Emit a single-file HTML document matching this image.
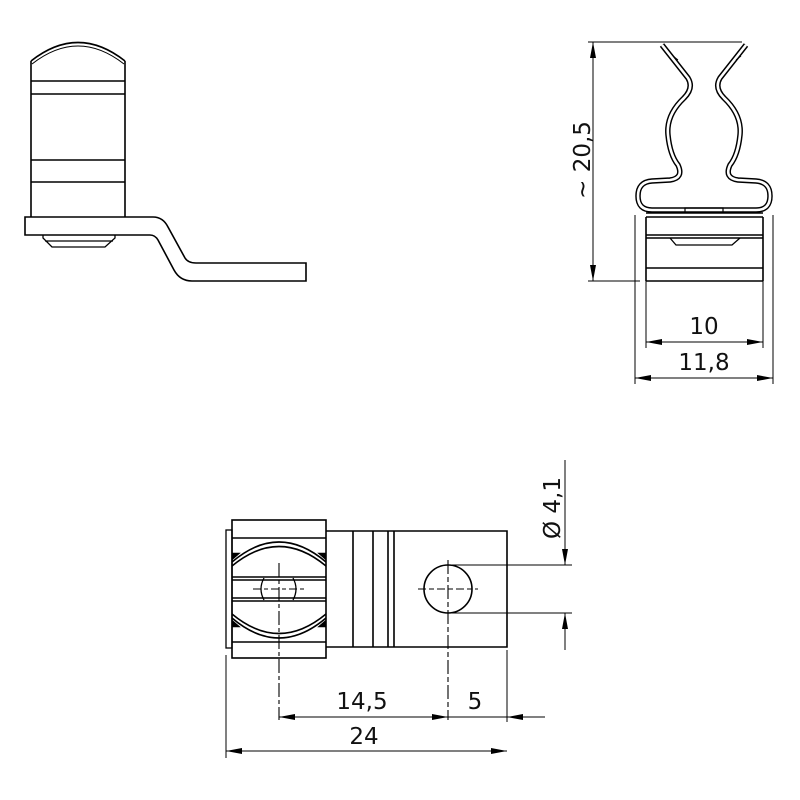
<!DOCTYPE html>
<html><head><meta charset="utf-8"><style>html,body{margin:0;padding:0;background:#fff}svg{display:block}</style></head>
<body>
<svg width="800" height="800" viewBox="0 0 800 800" xmlns="http://www.w3.org/2000/svg" font-family="'DejaVu Sans', 'Liberation Sans', sans-serif">
<defs>
<marker id="a" viewBox="0 0 16 6" refX="16" refY="3" markerWidth="16" markerHeight="6" markerUnits="userSpaceOnUse" orient="auto"><path d="M0,0 L16,3 L0,6 Z" fill="#000"/></marker>
</defs>
<g fill="none" stroke="#000" stroke-width="1.6">
<path d="M31,61 Q78,24 125,61"/>
<path d="M32,64 Q78,28 124,64" stroke-width="1"/>
<path d="M31,61 L31,217 M125,61 L125,217"/>
<path d="M31,81 H125 M31,94 H125 M31,160 H125 M31,182 H125"/>
<path d="M25,217 H153 Q163,217 168,227 L185,258 Q188,263 196,263 H306 V281 H192 Q180,281 174,270 L158,240 Q155,235 150,235 H25 Z"/>
<path d="M43,235 V238 L52,247 H105 L115,238 V235 M45,241 H113" stroke-width="1.3"/>

<g stroke-width="5.5" stroke-linejoin="round">
<path d="M662,45 L688,78 Q694,88 684,98 Q666,115 668,135 Q670,155 678,165 Q684,178 670,180 L652,181 Q638,182 638,196 Q638,210 652,210 L756,210 Q770,210 770,196 Q770,182 756,181 L738,180 Q724,178 730,165 Q738,155 740,135 Q742,115 724,98 Q714,88 720,78 L746,45"/>
</g>
<path d="M662,45 L688,78 Q694,88 684,98 Q666,115 668,135 Q670,155 678,165 Q684,178 670,180 L652,181 Q638,182 638,196 Q638,210 652,210 L756,210 Q770,210 770,196 Q770,182 756,181 L738,180 Q724,178 730,165 Q738,155 740,135 Q742,115 724,98 Q714,88 720,78 L746,45" stroke="#fff" stroke-width="2.6" stroke-linejoin="round"/>
<path d="M673,56 L678,60 M736,60 L741,56" stroke-width="1"/>
<path d="M685,213 V208 H723 V213" stroke-width="1.2"/>
<path d="M646,213 H763 M646,217 V281 M763,217 V281 M646,217 H763 M646,235 H763 M646,238 H763 M646,268 H763 M646,281 H763"/>
<path d="M670,238 L676,245 H732 L740,238" stroke-width="1.3"/>
<g stroke-width="1">
<path d="M588,42 H742 M588,281 H640"/>
<line x1="593" y1="160" x2="593" y2="42" marker-end="url(#a)"/>
<line x1="593" y1="160" x2="593" y2="281" marker-end="url(#a)"/>
<path d="M635,215 V384 M773,215 V384 M646,281 V348 M763,281 V348"/>
<line x1="704" y1="342" x2="646" y2="342" marker-end="url(#a)"/>
<line x1="704" y1="342" x2="763" y2="342" marker-end="url(#a)"/>
<line x1="704" y1="378" x2="635" y2="378" marker-end="url(#a)"/>
<line x1="704" y1="378" x2="773" y2="378" marker-end="url(#a)"/>
</g>

<rect x="226" y="530" width="6" height="118" stroke-width="1.3"/>
<rect x="232" y="520" width="94" height="138"/>
<path d="M232,538 H326 M232,642 H326 M232,577 H326 M232,580 H326 M232,598 H326 M232,601 H326"/>
<path d="M232,562 Q279,522 326,562 M232,566 Q279,527 326,566"/>
<path d="M232,618 Q279,658 326,618 M232,614 Q279,653 326,614"/>
<path d="M232,553 L240,553 L232,560 Z M326,553 L318,553 L326,560 Z M232,627 L240,627 L232,620 Z M326,627 L318,627 L326,620 Z" fill="#000" stroke-width="0.6"/>
<path d="M264,578 Q258,589 264,600 M293,578 Q299,589 293,600" stroke-width="1.3"/>
<path d="M326,531 H507 V647 H326 M353,531 V647 M373,531 V647 M388,531 V647 M394,531 V647"/>
<circle cx="448" cy="589" r="24"/>
<g stroke-width="1.1">
<path d="M253,589 H305" stroke-dasharray="8,3,4,3"/>
<path d="M279,563 V720" stroke-dasharray="14,3,4,3"/>
<path d="M418,589 H478" stroke-dasharray="8,3,5,3"/>
<path d="M448,560 V720" stroke-dasharray="14,3,5,3"/>
</g>
<g stroke-width="1">
<path d="M448,565 H572 M448,613 H572"/>
<path d="M565,460 V565 M565,613 V650"/>
<line x1="565" y1="525" x2="565" y2="565" marker-end="url(#a)"/>
<line x1="565" y1="645" x2="565" y2="613" marker-end="url(#a)"/>
<path d="M226,655 V758 M507,650 V722"/>
<line x1="360" y1="717" x2="279" y2="717" marker-end="url(#a)"/>
<line x1="360" y1="717" x2="448" y2="717" marker-end="url(#a)"/>
<line x1="545" y1="717" x2="507" y2="717" marker-end="url(#a)"/>
<path d="M448,717 H507"/>
<line x1="366" y1="751" x2="226" y2="751" marker-end="url(#a)"/>
<line x1="366" y1="751" x2="507" y2="751" marker-end="url(#a)"/>
</g>
</g>
<g font-size="23" fill="#111" text-anchor="middle">
<text x="0" y="0" transform="translate(590,160) rotate(-90)">~ 20,5</text>
<text x="704" y="334">10</text>
<text x="704" y="370">11,8</text>
<text x="0" y="0" transform="translate(560,508) rotate(-90)">Ø 4,1</text>
<text x="362" y="709">14,5</text>
<text x="475" y="709">5</text>
<text x="364" y="744">24</text>
</g>
</svg>
</body></html>
